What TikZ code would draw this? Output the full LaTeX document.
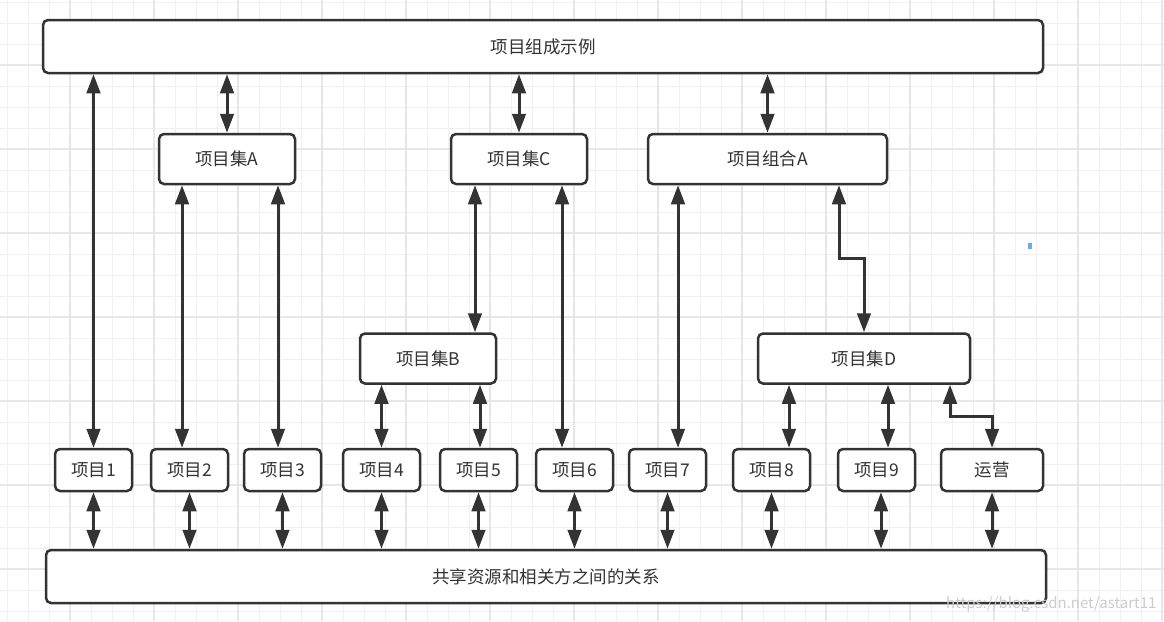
\documentclass[tikz,border=0pt]{standalone}
\usepackage{fontspec}
\newfontfamily\cjk{Noto Sans CJK SC}
\usetikzlibrary{arrows.meta,positioning}
\definecolor{ink}{HTML}{333333}
\definecolor{gridminor}{HTML}{F0F0F0}
\definecolor{gridmajor}{HTML}{E7E7E7}
\definecolor{marker}{HTML}{6FA8E8}
\tikzset{
  box/.style={draw=ink,line width=2.5pt,rounded corners=5pt,fill=white,
    text=ink,font=\cjk\fontsize{17.5}{20}\selectfont,inner sep=0pt},
  item/.style={box,minimum width=77pt,minimum height=42pt},
  setbox/.style={box,minimum height=50pt},
  wide/.style={box,minimum width=1000pt,minimum height=53pt},
  link/.style={{Triangle[length=19pt,width=13.5pt]}-{Triangle[length=19pt,width=13.5pt]},
    line width=3pt,draw=ink}
}

\begin{document}
\begin{tikzpicture}[x=1pt,y=-1pt]
  \useasboundingbox (0,0) rectangle (1164,621);
  \fill[white] (0,0) rectangle (1164,621);
  % background grid
  \foreach \i in {0,...,55}
    \draw[gridminor,line width=1pt] ({7+21*\i},0) -- ({7+21*\i},621);
  \foreach \j in {0,...,29}
    \draw[gridminor,line width=1pt] (0,{2+21*\j}) -- (1164,{2+21*\j});
  \foreach \i in {0,...,13}
    \draw[gridmajor,line width=1.2pt] ({70+84*\i},0) -- ({70+84*\i},621);
  \foreach \j in {0,...,6}
    \draw[gridmajor,line width=1.2pt] (0,{65+84*\j}) -- (1164,{65+84*\j});
  \fill[marker] (1028,243) rectangle (1032,249);

  % top and bottom bars
  \node[wide] (whole) at (543,46.5) {项目组成示例};
  \node[wide] (shared) at (546,576.5) {共享资源和相关方之间的关系};

  % programmes and portfolio
  \node[setbox,minimum width=136pt] (setA) at (227,159) {项目集A};
  \node[setbox,minimum width=136pt] (setC) at (519,159) {项目集C};
  \node[setbox,minimum width=239pt] (combA) at (767.5,159) {项目组合A};
  \node[setbox,minimum width=136pt] (setB) at (428,358.5) {项目集B};
  \node[setbox,minimum width=212pt] (setD) at (864,358.5) {项目集D};

  % projects
  \node[item] (p1) at (93.5,470) {项目1};
  \node[item] (p2) at (189.5,470) {项目2};
  \node[item] (p3) at (282.5,470) {项目3};
  \node[item] (p4) at (381.5,470) {项目4};
  \node[item] (p5) at (478.5,470) {项目5};
  \node[item] (p6) at (574.5,470) {项目6};
  \node[item] (p7) at (667.5,470) {项目7};
  \node[item] (p8) at (771.5,470) {项目8};
  \node[item] (p9) at (876.5,470) {项目9};
  \node[item,minimum width=102pt] (ops) at (992,470) {运营};

  % upper links
  \draw[link] (whole.south -| p1.north) -- (p1.north);
  \draw[link] (whole.south -| setA.north) -- (setA.north);
  \draw[link] (whole.south -| setC.north) -- (setC.north);
  \draw[link] (whole.south -| combA.north) -- (combA.north);
  \draw[link] ([xshift=-7.5pt]p2.north |- setA.south) -- ([xshift=-7.5pt]p2.north);
  \draw[link] ([xshift=-4.5pt]p3.north |- setA.south) -- ([xshift=-4.5pt]p3.north);
  \draw[link] ([xshift=47pt]setB.north |- setC.south) -- ([xshift=47pt]setB.north);
  \draw[link] ([xshift=-12.5pt]p6.north |- setC.south) -- ([xshift=-12.5pt]p6.north);
  \draw[link] ([xshift=10.5pt]p7.north |- combA.south) -- ([xshift=10.5pt]p7.north);
  \draw[link] ([xshift=71.5pt]combA.south) -- ++(0,73) -| (setD.north);
  \draw[link] (setB.south -| p4.north) -- (p4.north);
  \draw[link] ([xshift=1.5pt]setB.south -| p5.north) -- ([xshift=1.5pt]p5.north);
  \draw[link] ([xshift=17.5pt]p8.north |- setD.south) -- ([xshift=17.5pt]p8.north);
  \draw[link] ([xshift=11.5pt]p9.north |- setD.south) -- ([xshift=11.5pt]p9.north);
  \draw[link] ([xshift=86pt]setD.south) -- ++(0,32) -| (ops.north);

  % lower links
  \foreach \p in {p1,p2,p3,p4,p5,p6,p7,p8,ops}
    \draw[link] (\p.south) -- (\p.south |- shared.north);
  \draw[link] ([xshift=4.5pt]p9.south) -- ([xshift=4.5pt]p9.south |- shared.north);

  \node[font=\cjk\fontsize{15}{18}\selectfont,text=gray!40,anchor=east] (mark)
    at (1160,604) {https://blog.csdn.net/astart11};
\end{tikzpicture}
\end{document}
